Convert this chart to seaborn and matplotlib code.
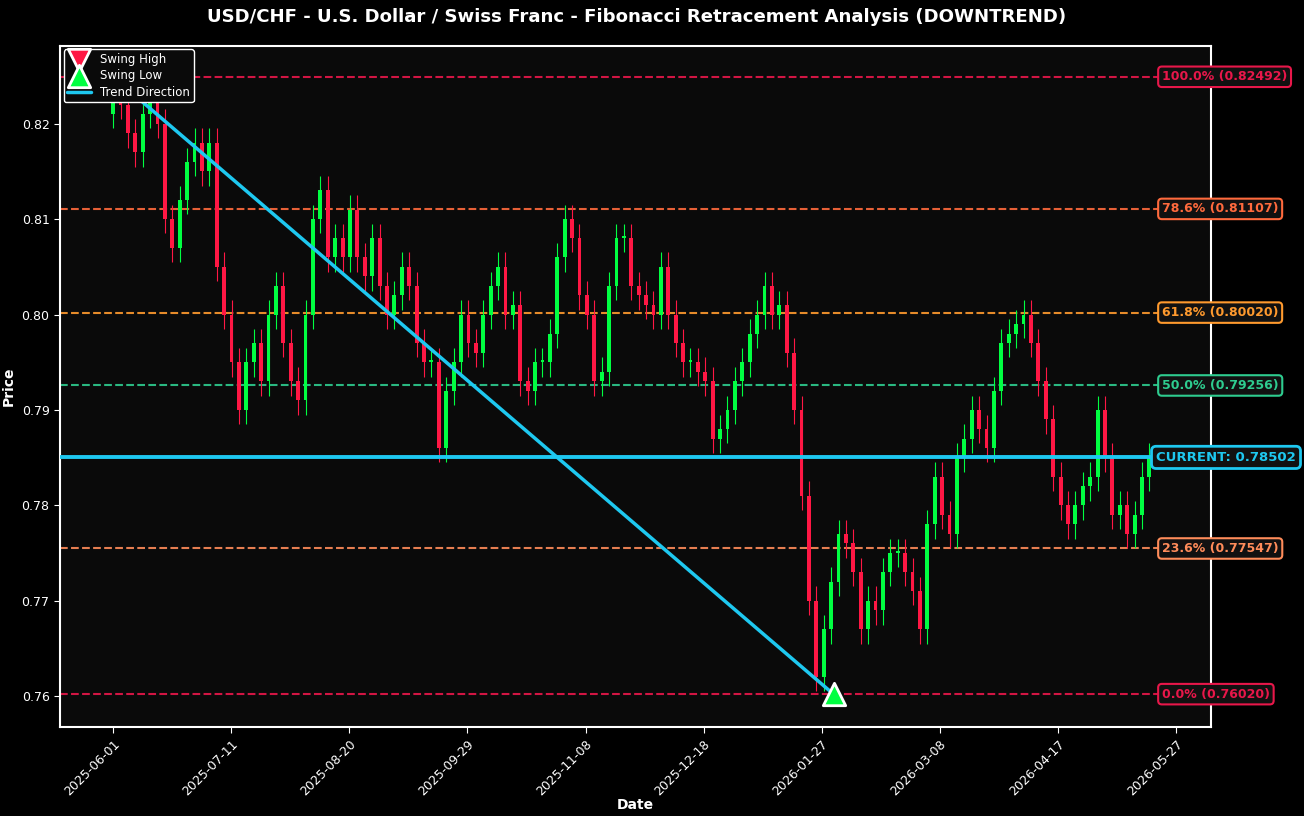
import numpy as np
import pandas as pd
import matplotlib
matplotlib.use("Agg")
import matplotlib.pyplot as plt
import matplotlib.transforms as mtrans
import seaborn as sns

closes = [0.8235, 0.822, 0.819, 0.817, 0.821, 0.823, 0.820, 0.810, 0.807, 0.812, 0.816, 0.818, 0.815, 0.818,
          0.805, 0.800, 0.795, 0.790, 0.795, 0.797, 0.793, 0.800, 0.803, 0.797, 0.793, 0.791, 0.800,
          0.810, 0.813, 0.806, 0.808, 0.806, 0.811, 0.806, 0.804, 0.808, 0.803, 0.800, 0.802, 0.805,
          0.803, 0.797, 0.795, 0.795, 0.786, 0.792, 0.795, 0.800, 0.797, 0.796, 0.800, 0.803, 0.805,
          0.800, 0.801, 0.793, 0.792, 0.795, 0.795, 0.798, 0.806, 0.810, 0.808, 0.802, 0.800, 0.793,
          0.794, 0.803, 0.808, 0.808, 0.803, 0.802, 0.801, 0.800, 0.805, 0.800, 0.797, 0.795, 0.795,
          0.794, 0.793, 0.787, 0.788, 0.790, 0.793, 0.795, 0.798, 0.800, 0.803, 0.800, 0.801, 0.796,
          0.790, 0.781, 0.770, 0.762, 0.767, 0.772, 0.777, 0.776, 0.773, 0.767, 0.770, 0.769, 0.773,
          0.775, 0.775, 0.773, 0.771, 0.767, 0.778, 0.783, 0.779, 0.777, 0.785, 0.787, 0.790, 0.788,
          0.786, 0.792, 0.797, 0.798, 0.799, 0.800, 0.797, 0.793, 0.789, 0.783, 0.780, 0.778, 0.780,
          0.782, 0.783, 0.790, 0.785, 0.779, 0.780, 0.777, 0.779, 0.783, 0.78502]
first_open = 0.8210
start_date = "2025-06-01"
end_date = "2026-05-18"

swing_high = ("2025-06-01", 0.82492)
swing_low = ("2026-01-31", 0.76020)
current = 0.78502
fib_pcts = ["100.0%", "78.6%", "61.8%", "50.0%", "23.6%", "0.0%"]
fib_vals = [0.82492, 0.81107, 0.80020, 0.79256, 0.77547, 0.76020]
fib_cols = ["#e8174a", "#ff6a3d", "#ff9a2e", "#2ecc8f", "#ff8c5a", "#e8174a"]

sns.set_style("dark")
plt.rcParams['font.family'] = ['DejaVu Sans']
BG = "#0a0a0a"
fig = plt.figure(figsize=(13.04, 8.16), dpi=100, facecolor="#000000")
ax = fig.add_axes([0.046, 0.109, 0.883, 0.835], facecolor=BG)

dates = pd.date_range(start_date, end_date, periods=len(closes))
opens = [first_open] + closes[:-1]
highs = [max(o, c) + 0.0015 for o, c in zip(opens, closes)]
lows = [min(o, c) - 0.0015 for o, c in zip(opens, closes)]
df = pd.DataFrame({"date": dates, "open": opens, "close": closes, "high": highs, "low": lows})
up = df.close >= df.open
colors = np.where(up, "#00ff41", "#ff1744")
ax.vlines(df.date, df.low, df.high, colors=colors, linewidth=0.8, zorder=3)
ax.bar(df.date, (df.close - df.open).abs().clip(lower=0.0002), bottom=np.minimum(df.open, df.close),
       width=1.3, color=colors, edgecolor="none", linewidth=0, zorder=4)

tf = mtrans.blended_transform_factory(ax.transAxes, ax.transData)
for p, v, c in zip(fib_pcts, fib_vals, fib_cols):
    ax.axhline(v, color=c, ls="--", lw=1.5, alpha=0.9, zorder=2)
    ax.text(0.957, v, f"{p} ({v:.5f})", transform=tf,
            color=c, fontsize=9, fontweight="bold", va="center", ha="left", zorder=6, clip_on=False,
            bbox=dict(boxstyle="round,pad=0.3", fc="#111111", ec=c, lw=1.5))
ax.axhline(current, color="#1ec8f0", lw=2.8, zorder=5)
ax.text(0.952, current, f"CURRENT: {current:.5f}", transform=tf,
        color="#1ec8f0", fontsize=9.5, fontweight="bold", va="center", ha="left", zorder=6, clip_on=False,
        bbox=dict(boxstyle="round,pad=0.35", fc="#111111", ec="#1ec8f0", lw=2))

trend = pd.DataFrame({"date": pd.to_datetime([swing_high[0], swing_low[0]]), "price": [swing_high[1], swing_low[1]]})
sns.lineplot(data=trend, x="date", y="price", ax=ax, color="#1ec8f0", lw=2.5, zorder=5, label="Trend Direction")
ax.scatter(pd.to_datetime(swing_high[0]), swing_high[1], marker="v", s=260, c="#ff1744", edgecolors="white", linewidths=2, zorder=7, label="Swing High")
ax.scatter(pd.to_datetime(swing_low[0]), swing_low[1], marker="^", s=260, c="#00ff41", edgecolors="white", linewidths=2, zorder=7, label="Swing Low")

h, l = ax.get_legend_handles_labels()
order = [l.index("Swing High"), l.index("Swing Low"), l.index("Trend Direction")]
leg = ax.legend([h[i] for i in order], [l[i] for i in order], loc="upper left", fontsize=8.5,
                facecolor=BG, edgecolor="white", labelcolor="white", borderpad=0.3, handletextpad=0.8,
                labelspacing=0.3, framealpha=1, borderaxespad=0.3)
leg.set_zorder(10)

ax.set_xlim(pd.Timestamp("2025-05-14"), pd.Timestamp("2026-06-08"))
ax.set_ylim(0.75675, 0.82818)
ticks = pd.date_range("2025-06-01", periods=10, freq="40D")
ax.set_xticks(ticks)
ax.set_xticklabels([t.strftime("%Y-%m-%d") for t in ticks], rotation=45, ha="right", rotation_mode="anchor")
ax.set_yticks([0.76, 0.77, 0.78, 0.79, 0.80, 0.81, 0.82])
ax.set_yticklabels([f"{v:.2f}" for v in [0.76, 0.77, 0.78, 0.79, 0.80, 0.81, 0.82]])
ax.tick_params(colors="white", labelsize=9, length=4, bottom=True, left=True)
for s in ax.spines.values():
    s.set_color("white"); s.set_linewidth(1.5)
ax.grid(False)
ax.set_xlabel("Date", color="white", fontsize=10, fontweight="bold", labelpad=0)
ax.set_ylabel("Price", color="white", fontsize=10, fontweight="bold")
fig.suptitle("USD/CHF - U.S. Dollar / Swiss Franc - Fibonacci Retracement Analysis (DOWNTREND)",
             color="white", fontsize=13.1, fontweight="bold", x=0.488, y=0.99)
fig.savefig("out.png", dpi=100, facecolor="#000000")
